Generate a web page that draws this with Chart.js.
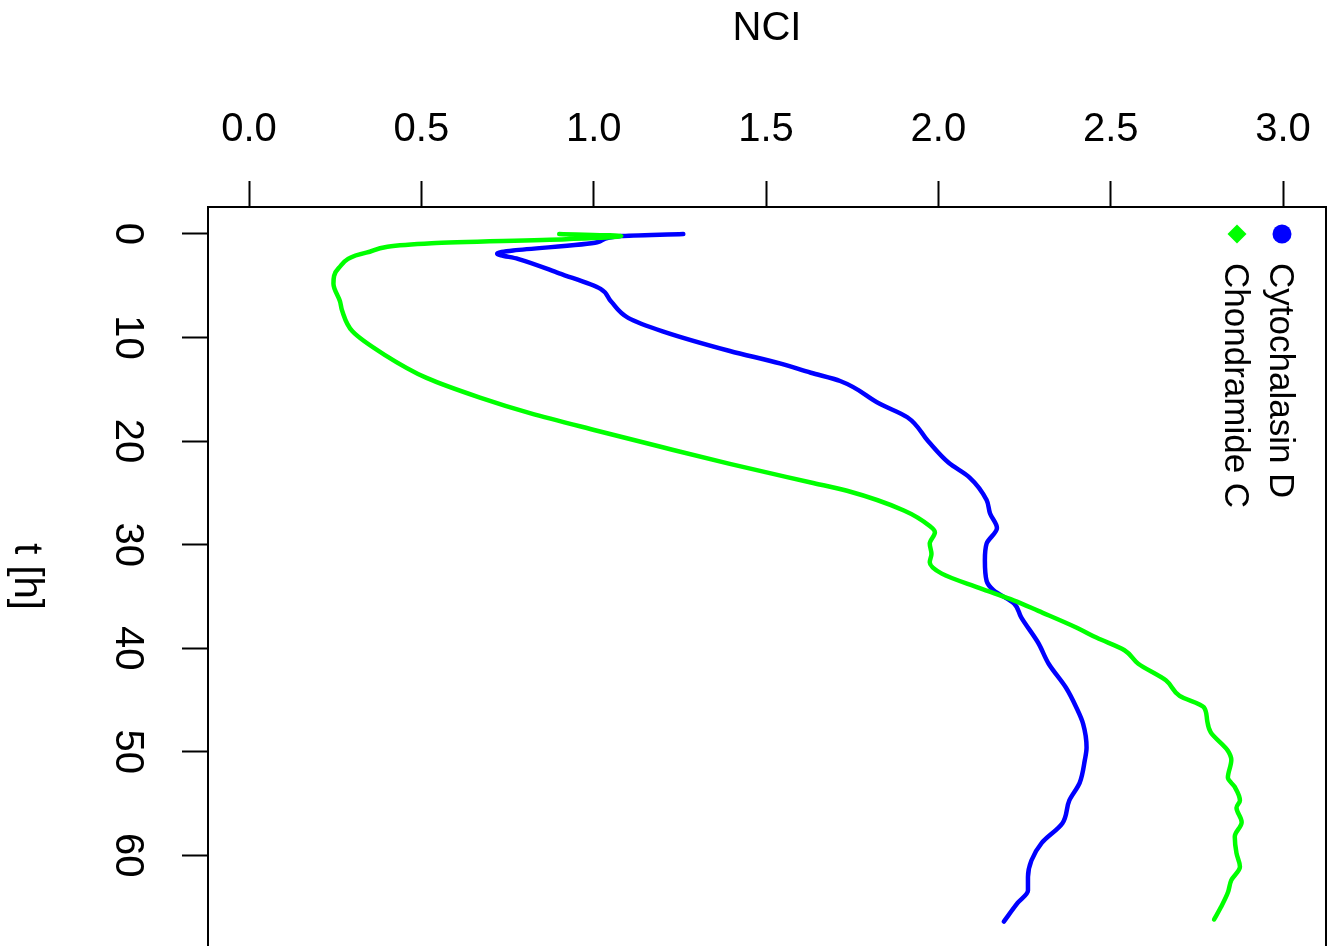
<!DOCTYPE html>
<html>
<head>
<meta charset="utf-8">
<title>NCI over time</title>
<script src="https://cdn.jsdelivr.net/npm/chart.js@4/dist/chart.umd.min.js"></script>
<style>
  html, body { margin: 0; padding: 0; background: #fff; overflow: hidden; }
  #wrap { width: 1328px; height: 946px; position: relative; }
</style>
</head>
<body>
<div id="wrap"><canvas id="nciChart"></canvas></div>
<script>
// data: t in hours (vertical), NCI (horizontal)
const seriesNames = ['Cytochalasin D', 'Chondramide C'];
const seriesColors = ['rgb(0,0,255)', 'rgb(0,255,0)'];

const cytoT   = [0, 0.2, 0.8, 1.9, 2.4, 3.8, 5.3, 6.5, 8.1, 9.4, 11.3, 12.5, 13.4, 14.2, 16.4, 17.7, 20, 22.1, 23.5, 25.7, 27, 28.4, 29.9, 31.5, 33.5, 34.4, 35.7, 37, 39.5, 41.5, 43.8, 45.7, 47.3, 49.6, 50.8, 53, 54.7, 56.9, 58.8, 60.5, 62.1, 63.4, 64.6, 66.4];
const cytoNCI = [1.26, 1.08, 1.01, 0.72, 0.78, 0.90, 1.02, 1.05, 1.10, 1.20, 1.395, 1.54, 1.63, 1.715, 1.83, 1.91, 1.97, 2.03, 2.09, 2.14, 2.15, 2.17, 2.14, 2.135, 2.14, 2.16, 2.22, 2.24, 2.29, 2.32, 2.37, 2.40, 2.42, 2.43, 2.425, 2.41, 2.38, 2.36, 2.30, 2.27, 2.26, 2.26, 2.23, 2.19];

const chondT   = [0, 0.2, 0.5, 0.9, 1.8, 3.3, 4.8, 6.5, 7.4, 9.4, 11.6, 13.9, 15.8, 17.3, 19, 20.6, 22.2, 24, 24.8, 26.7, 28.2, 28.8, 29.9, 30.9, 31.7, 32.8, 34.2, 35.4, 36.4, 38, 39, 40.2, 41.5, 43.1, 44.6, 45.7, 47, 48.1, 49.9, 50.8, 52.5, 53.4, 54.7, 55.4, 56.8, 58.2, 59.8, 61.1, 62.4, 63.6, 65, 66.2];
const chondNCI = [0.90, 1.08, 0.92, 0.53, 0.34, 0.26, 0.245, 0.264, 0.27, 0.30, 0.39, 0.515, 0.67, 0.815, 1.01, 1.20, 1.395, 1.63, 1.735, 1.90, 1.975, 1.99, 1.975, 1.98, 1.975, 2.01, 2.12, 2.22, 2.29, 2.40, 2.46, 2.54, 2.58, 2.66, 2.70, 2.77, 2.78, 2.79, 2.84, 2.85, 2.84, 2.86, 2.875, 2.865, 2.88, 2.86, 2.865, 2.875, 2.85, 2.84, 2.82, 2.80];

const nciTicks = [0, 0.5, 1, 1.5, 2, 2.5, 3];
const timeTicks = [0, 10, 20, 30, 40, 50, 60];

const FONT = "'Liberation Sans', Arial, Helvetica, sans-serif";

const toPoints = (ts, vs) => ts.map((t, i) => ({ x: vs[i], y: t }));

// rotated texts (y tick labels, y title, legend) and the right frame edge
const rotatedText = {
  id: 'rotatedText',
  afterDraw(chart) {
    const ctx = chart.ctx;
    const area = chart.chartArea;
    const yScale = chart.scales.y;

    ctx.save();
    ctx.strokeStyle = '#000';
    ctx.lineWidth = 2;
    ctx.beginPath();
    ctx.moveTo(area.right, area.top);
    ctx.lineTo(area.right, area.bottom);
    ctx.stroke();

    ctx.fillStyle = '#000';
    ctx.font = `40px ${FONT}`;
    ctx.textAlign = 'center';
    ctx.textBaseline = 'alphabetic';
    timeTicks.forEach(v => {
      ctx.save();
      ctx.translate(area.left - 92, yScale.getPixelForValue(v));
      ctx.rotate(Math.PI / 2);
      ctx.fillText(String(v), 0, 0);
      ctx.restore();
    });

    ctx.save();
    ctx.translate(area.left - 193, (area.top + area.bottom) / 2);
    ctx.rotate(Math.PI / 2);
    ctx.fillText('t [h]', 0, 0);
    ctx.restore();

    // legend
    const lx = [area.right - 44, area.right - 89];
    const ly = area.top + 27;
    ctx.font = `35px ${FONT}`;
    ctx.textAlign = 'left';
    seriesNames.forEach((name, i) => {
      ctx.fillStyle = seriesColors[i];
      ctx.beginPath();
      if (i === 0) {
        ctx.arc(lx[i], ly, 9.5, 0, Math.PI * 2);
      } else {
        ctx.moveTo(lx[i], ly - 9.5);
        ctx.lineTo(lx[i] + 9.5, ly);
        ctx.lineTo(lx[i], ly + 9.5);
        ctx.lineTo(lx[i] - 9.5, ly);
        ctx.closePath();
      }
      ctx.fill();
      ctx.fillStyle = '#000';
      ctx.save();
      ctx.translate(lx[i] - 12, ly + 29);
      ctx.rotate(Math.PI / 2);
      ctx.fillText(name, 0, 0);
      ctx.restore();
    });
    ctx.restore();
  }
};

const lineStyle = {
  showLine: true,
  borderWidth: 4.5,
  borderCapStyle: 'round',
  borderJoinStyle: 'round',
  pointRadius: 0,
  cubicInterpolationMode: 'monotone'
};

const ctx = document.getElementById('nciChart').getContext('2d');
new Chart(ctx, {
  type: 'scatter',
  data: {
    datasets: [
      { ...lineStyle, label: seriesNames[0], data: toPoints(cytoT, cytoNCI), borderColor: seriesColors[0], order: 1 },
      { ...lineStyle, label: seriesNames[1], data: toPoints(chondT, chondNCI), borderColor: seriesColors[1], order: 0 }
    ]
  },
  options: {
    indexAxis: 'y',
    responsive: true,
    maintainAspectRatio: false,
    animation: false,
    layout: { padding: { left: 182, right: 2, top: 0, bottom: 0 } },
    scales: {
      x: {
        type: 'linear',
        position: 'top',
        min: -0.119,
        max: 3.1247,
        afterBuildTicks: s => { s.ticks = nciTicks.map(v => ({ value: v })); },
        afterFit: s => { s.paddingLeft = 0; s.paddingRight = 0; },
        grid: { drawOnChartArea: false, drawTicks: true, tickLength: 26, tickWidth: 2, tickColor: '#000' },
        border: { display: true, color: '#000', width: 2 },
        ticks: {
          color: '#000',
          padding: 27,
          maxRotation: 0,
          font: { family: FONT, size: 40 },
          callback: v => v.toFixed(1)
        },
        title: {
          display: true,
          text: 'NCI',
          color: '#000',
          font: { family: FONT, size: 40 },
          padding: { top: 5, bottom: 26 }
        }
      },
      y: {
        type: 'linear',
        reverse: true,
        min: -2.604,
        max: 68.76,
        afterBuildTicks: s => { s.ticks = timeTicks.map(v => ({ value: v })); },
        grid: { drawOnChartArea: false, drawTicks: true, tickLength: 26, tickWidth: 2, tickColor: '#000' },
        border: { display: true, color: '#000', width: 2 },
        ticks: { display: false },
        title: { display: false }
      }
    },
    plugins: {
      legend: { display: false },
      tooltip: { enabled: false }
    }
  },
  plugins: [rotatedText]
});
</script>
</body>
</html>
